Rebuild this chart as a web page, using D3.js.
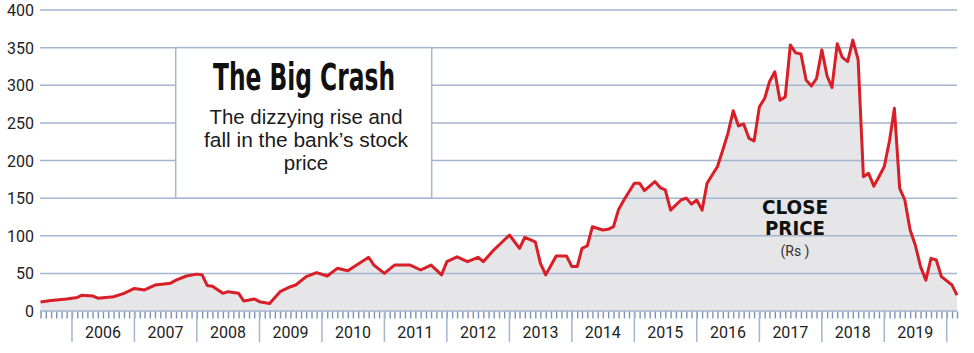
<!DOCTYPE html>
<html>
<head>
<meta charset="utf-8">
<script src="https://cdn.jsdelivr.net/npm/d3@7"></script>
<style>
  html, body { margin: 0; padding: 0; background: #fff; }
  svg { display: block; }
</style>
</head>
<body>
<svg id="chart" width="974" height="353"></svg>
<script>
// ---- data (monthly close price, Rs) ----
const months = [
  "2005-07","2005-09","2005-12","2006-02","2006-03","2006-05","2006-06","2006-09","2006-11",
  "2007-01","2007-03","2007-05","2007-08","2007-09","2007-11",
  "2008-01","2008-02","2008-03","2008-04","2008-06","2008-07","2008-09","2008-10","2008-12",
  "2009-01","2009-03","2009-05","2009-07","2009-08","2009-10","2009-12",
  "2010-02","2010-04","2010-06","2010-10","2010-11",
  "2011-01","2011-03","2011-06","2011-08","2011-10","2011-12",
  "2012-01","2012-03","2012-05","2012-07","2012-08","2012-10","2012-11",
  "2013-01","2013-03","2013-04","2013-06","2013-07","2013-08","2013-10","2013-12",
  "2014-01","2014-02","2014-03","2014-04","2014-05","2014-07","2014-08","2014-09","2014-10","2014-11",
  "2015-01","2015-02","2015-03","2015-05","2015-06","2015-07","2015-08","2015-10","2015-11","2015-12",
  "2016-01","2016-02","2016-03","2016-05","2016-06","2016-07","2016-08","2016-09","2016-10","2016-11","2016-12",
  "2017-01","2017-02","2017-03","2017-04","2017-05","2017-06","2017-07","2017-08","2017-09","2017-10","2017-11","2017-12",
  "2018-01","2018-02","2018-03","2018-04","2018-05","2018-06","2018-07","2018-08","2018-09","2018-10","2018-11","2018-12",
  "2019-01","2019-02","2019-03","2019-04","2019-05","2019-06","2019-07","2019-08","2019-09","2019-10","2019-11","2019-12",
  "2020-02","2020-03"
];
const closePrice = [
  12,14,16,18,21,20,17,19,23.5,
  30,28,34.5,37,41,46.5,
  49,48,34,33,23.5,25.7,23.5,13.3,16,
  12.4,10,25.7,32.3,34.5,45.6,51,
  46.5,56.7,53.6,71.4,61,
  50,61,61,54.5,61,48,
  65.5,72,65.5,71.4,65.5,81,87.7,
  101,83.3,98,92,63.4,48,73,73,
  59,59,83.3,86.4,112,107.6,108.6,112,135,147.5,
  169.7,169.7,160,172,164,161,134,147.5,150,142,
  147.5,134,169.7,192,214,236,266,246,248.5,229.5,226,
  271.5,282.7,304.7,318,280,284.5,353.5,343,341.6,307,299,309,
  347,312,297,355,337,331.4,360,334.5,178.5,183,166,178.5,
  192,227,269.4,163,147.5,107.6,87.7,59,41,70,67.8,45.6,
  34.5,21
];
const yTicks = [0,50,100,150,200,250,300,350,400];
const yearLabels = ["2006","2007","2008","2009","2010","2011","2012","2013","2014","2015","2016","2017","2018","2019"];
const axisStart = "2005-07";
const axisEnd = "2020-03";
const titleText = "The Big Crash";
const subtitleLines = ["The dizzying rise and", "fall in the bank\u2019s stock", "price"];
const seriesLabel = ["CLOSE", "PRICE"];
const unitLabel = "(Rs )";

// ---- drawing ----
(function () {
const parse = d3.timeParse("%Y-%m");
const data = months.map((m, i) => ({ date: parse(m), value: closePrice[i] }));

const svg = d3.select("#chart");
const gridColor = "#a3b5cf";
const tickColor = "#7d93b4";
const plotL = 40.5, plotR = 957, plotT = 10, plotB = 311;

const x = d3.scaleTime().domain([parse(axisStart), parse(axisEnd)]).range([plotL, plotR]);
const y = d3.scaleLinear().domain([0, 400]).range([plotB, plotT]);

// area
svg.append("path")
  .datum(data)
  .attr("fill", "#e6e6e9")
  .attr("d", d3.area().x(d => x(d.date)).y0(y(0)).y1(d => y(d.value)));

// gridlines
svg.append("g").selectAll("line")
  .data(yTicks)
  .join("line")
  .attr("x1", 40).attr("x2", plotR)
  .attr("y1", d => y(d)).attr("y2", d => y(d))
  .attr("stroke", gridColor).attr("stroke-width", 1.5);

// y labels
svg.append("g").selectAll("text")
  .data(yTicks)
  .join("text")
  .attr("x", 34).attr("y", d => y(d) + 6)
  .attr("text-anchor", "end")
  .attr("font-family", "Roboto, 'Liberation Sans', sans-serif")
  .attr("font-size", 16)
  .attr("fill", "#222")
  .text(d => d);

// minor monthly ticks via d3 axis
const minorTicks = d3.timeMonth.range(parse(axisStart), d3.timeMonth.offset(parse(axisEnd), 1));
const minorAxis = svg.append("g")
  .attr("transform", `translate(0,${plotB + 0.5})`)
  .call(d3.axisBottom(x).tickValues(minorTicks).tickSize(7).tickFormat(""));
minorAxis.select(".domain").remove();
minorAxis.selectAll(".tick line")
  .attr("stroke", tickColor).attr("stroke-width", 1.4);

// major yearly ticks
const yearTicks = d3.timeYear.range(parse("2006-01"), parse("2020-02"));
svg.append("g").selectAll("line")
  .data(yearTicks)
  .join("line")
  .attr("x1", d => x(d)).attr("x2", d => x(d))
  .attr("y1", plotB).attr("y2", plotB + 31)
  .attr("stroke", gridColor).attr("stroke-width", 1.5);

// year labels centred in each year
svg.append("g").selectAll("text")
  .data(yearLabels)
  .join("text")
  .attr("x", d => x(d3.timeMonth.offset(new Date(+d, 0, 1), 6)))
  .attr("y", 338)
  .attr("text-anchor", "middle")
  .attr("font-family", "Roboto, 'Liberation Sans', sans-serif")
  .attr("font-size", 16)
  .attr("fill", "#222")
  .text(d => d);

// price line
svg.append("path")
  .datum(data)
  .attr("fill", "none")
  .attr("stroke", "#d81e26")
  .attr("stroke-width", 3)
  .attr("stroke-linejoin", "round")
  .attr("d", d3.line().x(d => x(d.date)).y(d => y(d.value)));

// title box
svg.append("rect")
  .attr("x", 175.7).attr("y", y(350))
  .attr("width", 256).attr("height", y(150) - y(350))
  .attr("fill", "#fff")
  .attr("stroke", gridColor).attr("stroke-width", 1.5);

svg.append("text")
  .attr("x", 304).attr("y", 90)
  .attr("text-anchor", "middle")
  .attr("font-family", "'Liberation Sans Narrow', 'DejaVu Sans Condensed', 'Liberation Sans', sans-serif")
  .attr("font-weight", "bold")
  .attr("font-size", 37)
  .attr("textLength", 182)
  .attr("lengthAdjust", "spacingAndGlyphs")
  .attr("fill", "#111")
  .text(titleText);

const subWidths = [193, 204, null];
svg.append("g").selectAll("text")
  .data(subtitleLines)
  .join("text")
  .attr("x", 306)
  .attr("y", (d, i) => 123.5 + i * 23.3)
  .attr("text-anchor", "middle")
  .attr("font-family", "'Liberation Sans', Arial, sans-serif")
  .attr("font-size", 20.5)
  .attr("textLength", (d, i) => subWidths[i])
  .attr("lengthAdjust", (d, i) => subWidths[i] ? "spacingAndGlyphs" : null)
  .attr("fill", "#1a1a1a")
  .text(d => d);

// series label
const lblWidths = [66, 60];
svg.append("g").selectAll("text")
  .data(seriesLabel)
  .join("text")
  .attr("x", 795)
  .attr("y", (d, i) => 213.5 + i * 21.5)
  .attr("text-anchor", "middle")
  .attr("font-family", "'DejaVu Sans', sans-serif")
  .attr("font-weight", "bold")
  .attr("font-size", 19)
  .attr("textLength", (d, i) => lblWidths[i])
  .attr("lengthAdjust", "spacingAndGlyphs")
  .attr("fill", "#111")
  .text(d => d);

svg.append("text")
  .attr("x", 795).attr("y", 256)
  .attr("text-anchor", "middle")
  .attr("font-family", "Roboto, 'Liberation Sans', sans-serif")
  .attr("font-size", 14)
  .attr("fill", "#333")
  .text(unitLabel);
})();
</script>
</body>
</html>
